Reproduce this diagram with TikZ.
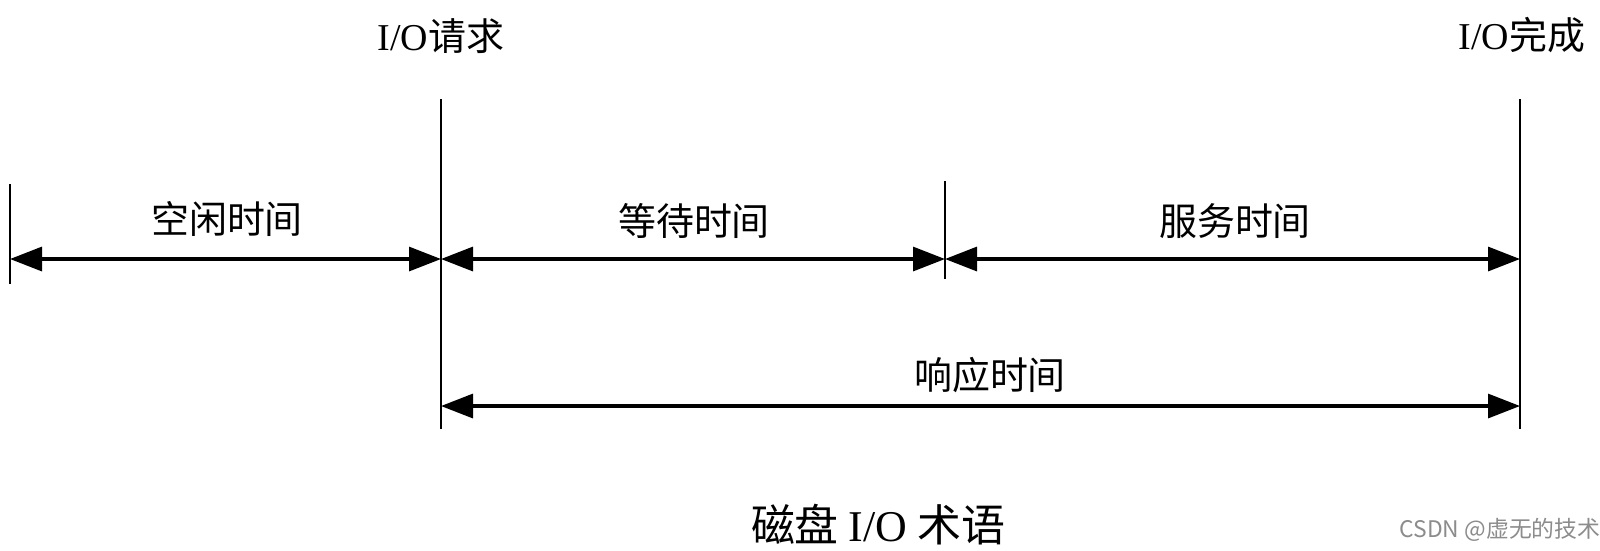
\documentclass[tikz,border=0pt]{standalone}
\usepackage{fontspec}
\setmainfont{Liberation Serif}
\newfontfamily\cjk{Noto Sans CJK SC}
\usetikzlibrary{
  arrows.meta,
  positioning,  % Function "of" (e.g. [above=of x])
}
\newcommand{\zh}[1]{{\cjk #1}}
\def\myrowa{-2.59}
\def\myrowb{-4.06}
\tikzset{
  semithick,
  >={Triangle[length=3.2mm,width=2.4mm]},
  my span/.style={
    <->,
    line width=0.32mm
  },
  my mark/.style={
    line width=0.25mm
  },
  my label/.style={
    font=\fontsize{10.8}{12}\selectfont,
    inner sep=0mm
  },
  my title/.style={
    font=\fontsize{12.5}{14}\selectfont\cjk,
    inner sep=0mm
  },
  my stamp/.style={
    font=\fontsize{6.5}{8}\selectfont\cjk,
    text=black!45,
    inner sep=0mm
  }
}
\begin{document}
\begin{tikzpicture}
\useasboundingbox (0,0) rectangle (16,-5.5);
% marks on the time line
\coordinate (idle)  at (0.10,\myrowa);
\coordinate (req)   at (4.41,\myrowa);
\coordinate (serve) at (9.45,\myrowa);
\coordinate (done)  at (15.20,\myrowa);
\coordinate (reqb)  at (4.41,\myrowb);
\coordinate (doneb) at (15.20,\myrowb);
\draw[my mark] (0.10,-1.84) -- (0.10,-2.84);
\draw[my mark] (4.41,-0.99) -- (4.41,-4.29);
\draw[my mark] (9.45,-1.81) -- (9.45,-2.79);
\draw[my mark] (15.20,-0.99) -- (15.20,-4.29);
\path[my span]
  (idle)  edge (req)
  (req)   edge (serve)
  (serve) edge (done)
  (reqb)  edge (doneb);
\node[my label] (lreq)  at (4.41,-0.36)  {I/O\zh{请求}};
\node[my label] (ldone) at (15.22,-0.35) {I/O\zh{完成}};
\node[my label] (lidle) at (2.27,-2.19)  {\zh{空闲时间}};
\node[my label] (lwait) at (6.94,-2.21)  {\zh{等待时间}};
\node[my label] (lserv) at (12.35,-2.21) {\zh{服务时间}};
\node[my label] (lresp) at (9.90,-3.75)  {\zh{响应时间}};
\node[my title] (title) at (8.78,-5.25)  {磁盘 {\rmfamily I/O} 术语};
\node[my stamp] (stamp) at (15.00,-5.30) {CSDN @虚无的技术};
\end{tikzpicture}
\end{document}
